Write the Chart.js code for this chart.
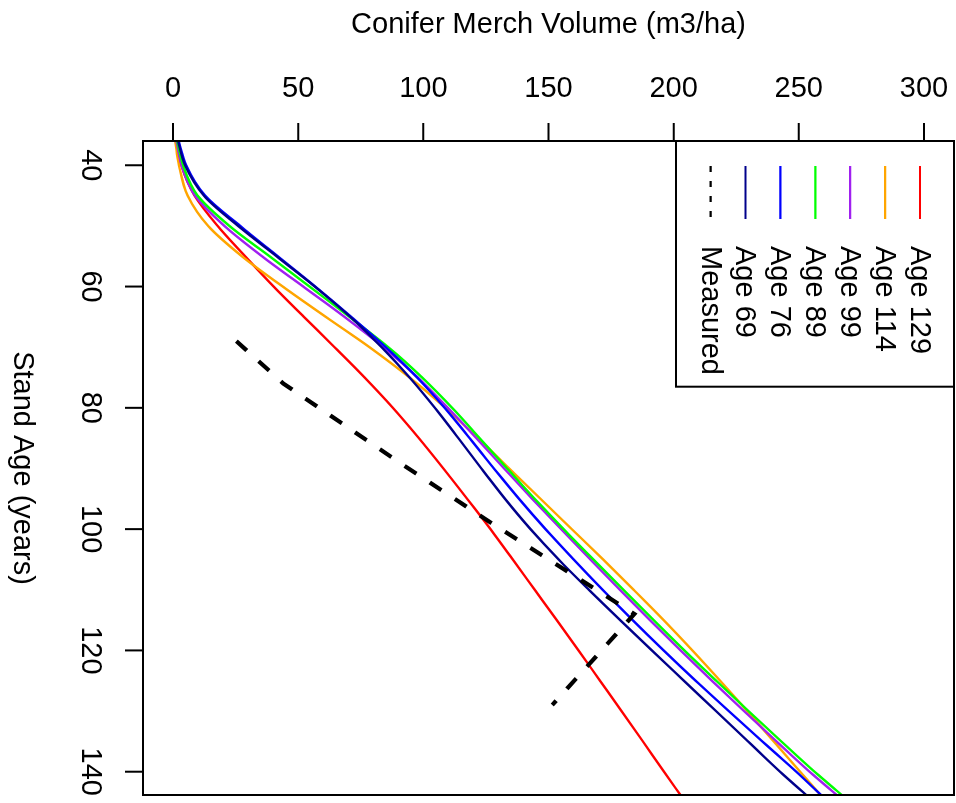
<!DOCTYPE html>
<html>
<head>
<meta charset="utf-8">
<script src="https://cdn.jsdelivr.net/npm/chart.js@4.4.1/dist/chart.umd.min.js"></script>
<style>
  html, body { margin: 0; padding: 0; background: #fff; overflow: hidden; }
  body { width: 956px; height: 803px; position: relative; }
  #wrap { position: absolute; left: 0; top: 0; width: 803px; height: 956px;
          transform-origin: 0 0; transform: translateX(956px) rotate(90deg); }
  canvas { display: block; }
</style>
</head>
<body>
<div id="wrap"><canvas id="c" width="803" height="956"></canvas></div>
<script>
// ---- data (Stand Age in years, Conifer Merch Volume in m3/ha) ----
const ages = [36, 40, 45, 50, 55, 60, 65, 70, 75, 80, 85, 90, 95, 100, 105, 110, 115, 120, 125, 130, 135, 140, 144];
const age69  = [2.0, 4.8, 12.3, 26.0, 41.3, 56.6, 70.8, 83.3, 94.5, 104.6, 114.0, 123.2, 132.6, 142.8, 154.0, 166.1, 178.6, 191.3, 204.1, 216.9, 229.7, 242.5, 253.4];
const age76  = [2.3, 5.2, 12.8, 26.8, 41.8, 56.8, 71.2, 85.0, 97.5, 108.5, 118.5, 128.2, 138.2, 148.8, 160.0, 171.6, 183.6, 196.0, 208.8, 222.0, 235.4, 249.0, 259.3];
const age89  = [1.7, 4.0, 9.8, 22.5, 38.5, 54.5, 70.5, 86.0, 99.5, 111.5, 122.5, 133.5, 144.5, 156.0, 167.9, 179.9, 192.0, 204.3, 217.0, 229.9, 243.0, 256.3, 267.6];
const age99  = [1.3, 3.4, 8.8, 20.5, 35.5, 52.0, 68.5, 84.0, 97.8, 109.8, 121.2, 132.3, 143.5, 155.0, 166.7, 178.5, 190.5, 202.8, 215.3, 228.1, 241.1, 254.3, 265.6];
const age114 = [0.9, 2.4, 5.8, 14.0, 27.5, 43.8, 61.0, 78.5, 94.5, 108.8, 121.8, 134.3, 146.8, 159.3, 171.8, 184.0, 196.0, 207.5, 218.6, 229.4, 240.0, 250.5, 259.0];
const age129 = [1.3, 3.3, 8.6, 17.8, 28.8, 40.2, 52.3, 64.5, 76.5, 87.8, 98.2, 108.0, 117.5, 126.8, 135.7, 144.5, 153.3, 162.0, 170.6, 179.2, 187.7, 196.1, 203.0];
const measuredAges = [69, 76, 89, 99, 114, 129];
const measuredVol  = [25.3, 44.1, 90.4, 127.2, 184.3, 151.5];
const ageTicks = [40, 60, 80, 100, 120, 140];
const volTicks = [0, 50, 100, 150, 200, 250, 300];
const legendLabels = ["Age 129", "Age 114", "Age 99", "Age 89", "Age 76", "Age 69", "Measured"];
const xTitle = "Stand Age (years)";
const yTitle = "Conifer Merch Volume (m3/ha)";

const COLORS = { a129: "#FF0000", a114: "#FFA500", a99: "#A020F0", a89: "#00FF00", a76: "#0000FF", a69: "#00008B", meas: "#000000" };
const FONT = '29px "Liberation Sans", Arimo, Arial, Helvetica, sans-serif';

const pts = (xs, ys) => xs.map((v, i) => ({ x: v, y: ys[i] }));
const curve = (label, ys, color) => ({
  label, data: pts(ages, ys), borderColor: color, borderWidth: 2.4,
  pointRadius: 0, fill: false, cubicInterpolationMode: 'monotone', clip: 0
});

// dataset index 0 is drawn on top in Chart.js
const datasets = [
  { label: "Measured", data: pts(measuredAges, measuredVol), borderColor: COLORS.meas, borderWidth: 4.2,
    borderDash: [14, 16], borderCapStyle: 'butt', pointRadius: 0, tension: 0, fill: false, clip: 0 },
  curve("Age 69", age69, COLORS.a69),
  curve("Age 76", age76, COLORS.a76),
  curve("Age 89", age89, COLORS.a89),
  curve("Age 99", age99, COLORS.a99),
  curve("Age 114", age114, COLORS.a114),
  curve("Age 129", age129, COLORS.a129)
];

const legendColors = [COLORS.a129, COLORS.a114, COLORS.a99, COLORS.a89, COLORS.a76, COLORS.a69, COLORS.meas];

const rPlot = {
  id: 'rplot',
  afterDraw(chart) {
    const { ctx, chartArea: a, scales: { x, y } } = chart;
    ctx.save();
    ctx.strokeStyle = '#000';
    ctx.lineWidth = 2;
    ctx.setLineDash([]);
    ctx.strokeRect(a.left, a.top, a.right - a.left, a.bottom - a.top);
    ctx.beginPath();
    ageTicks.forEach(t => { const p = x.getPixelForValue(t); ctx.moveTo(p, a.bottom); ctx.lineTo(p, a.bottom + 18); });
    volTicks.forEach(t => { const p = y.getPixelForValue(t); ctx.moveTo(a.left, p); ctx.lineTo(a.left - 18, p); });
    ctx.stroke();
    ctx.fillStyle = '#000';
    ctx.font = FONT;
    ctx.textAlign = 'center';
    ctx.textBaseline = 'middle';
    ageTicks.forEach(t => ctx.fillText(String(t), x.getPixelForValue(t), 866));
    volTicks.forEach(t => {
      ctx.save(); ctx.translate(89, y.getPixelForValue(t)); ctx.rotate(-Math.PI / 2);
      ctx.fillText(String(t), 0, 0); ctx.restore();
    });
    ctx.fillText(xTitle, (a.left + a.right) / 2, 934);
    ctx.save(); ctx.translate(25, (a.top + a.bottom) / 2); ctx.rotate(-Math.PI / 2);
    ctx.fillText(yTitle, 0, 0); ctx.restore();
    const lx0 = a.left, ly0 = a.top, lx1 = 386.7, ly1 = 280;
    ctx.lineWidth = 2;
    ctx.strokeRect(lx0, ly0, lx1 - lx0, ly1 - ly0);
    ctx.textAlign = 'left';
    legendLabels.forEach((lab, i) => {
      const yy = 36 + i * 34.9;
      ctx.beginPath();
      ctx.strokeStyle = legendColors[i];
      ctx.lineWidth = 2.2;
      ctx.setLineDash(lab === "Measured" ? [6, 9] : []);
      ctx.moveTo(166, yy); ctx.lineTo(219, yy); ctx.stroke();
      ctx.setLineDash([]);
      ctx.fillText(lab, 246, yy + 1);
    });
    ctx.restore();
  }
};

new Chart(document.getElementById('c'), {
  type: 'line',
  data: { datasets },
  options: {
    responsive: false,
    animation: false,
    events: [],
    layout: { padding: { left: 141, right: 8, top: 2, bottom: 143 } },
    plugins: { legend: { display: false }, tooltip: { enabled: false } },
    scales: {
      x: { type: 'linear', min: 36, max: 143.84, display: false },
      y: { type: 'linear', min: -12, max: 312, display: false }
    }
  },
  plugins: [rPlot]
});
</script>
</body>
</html>
